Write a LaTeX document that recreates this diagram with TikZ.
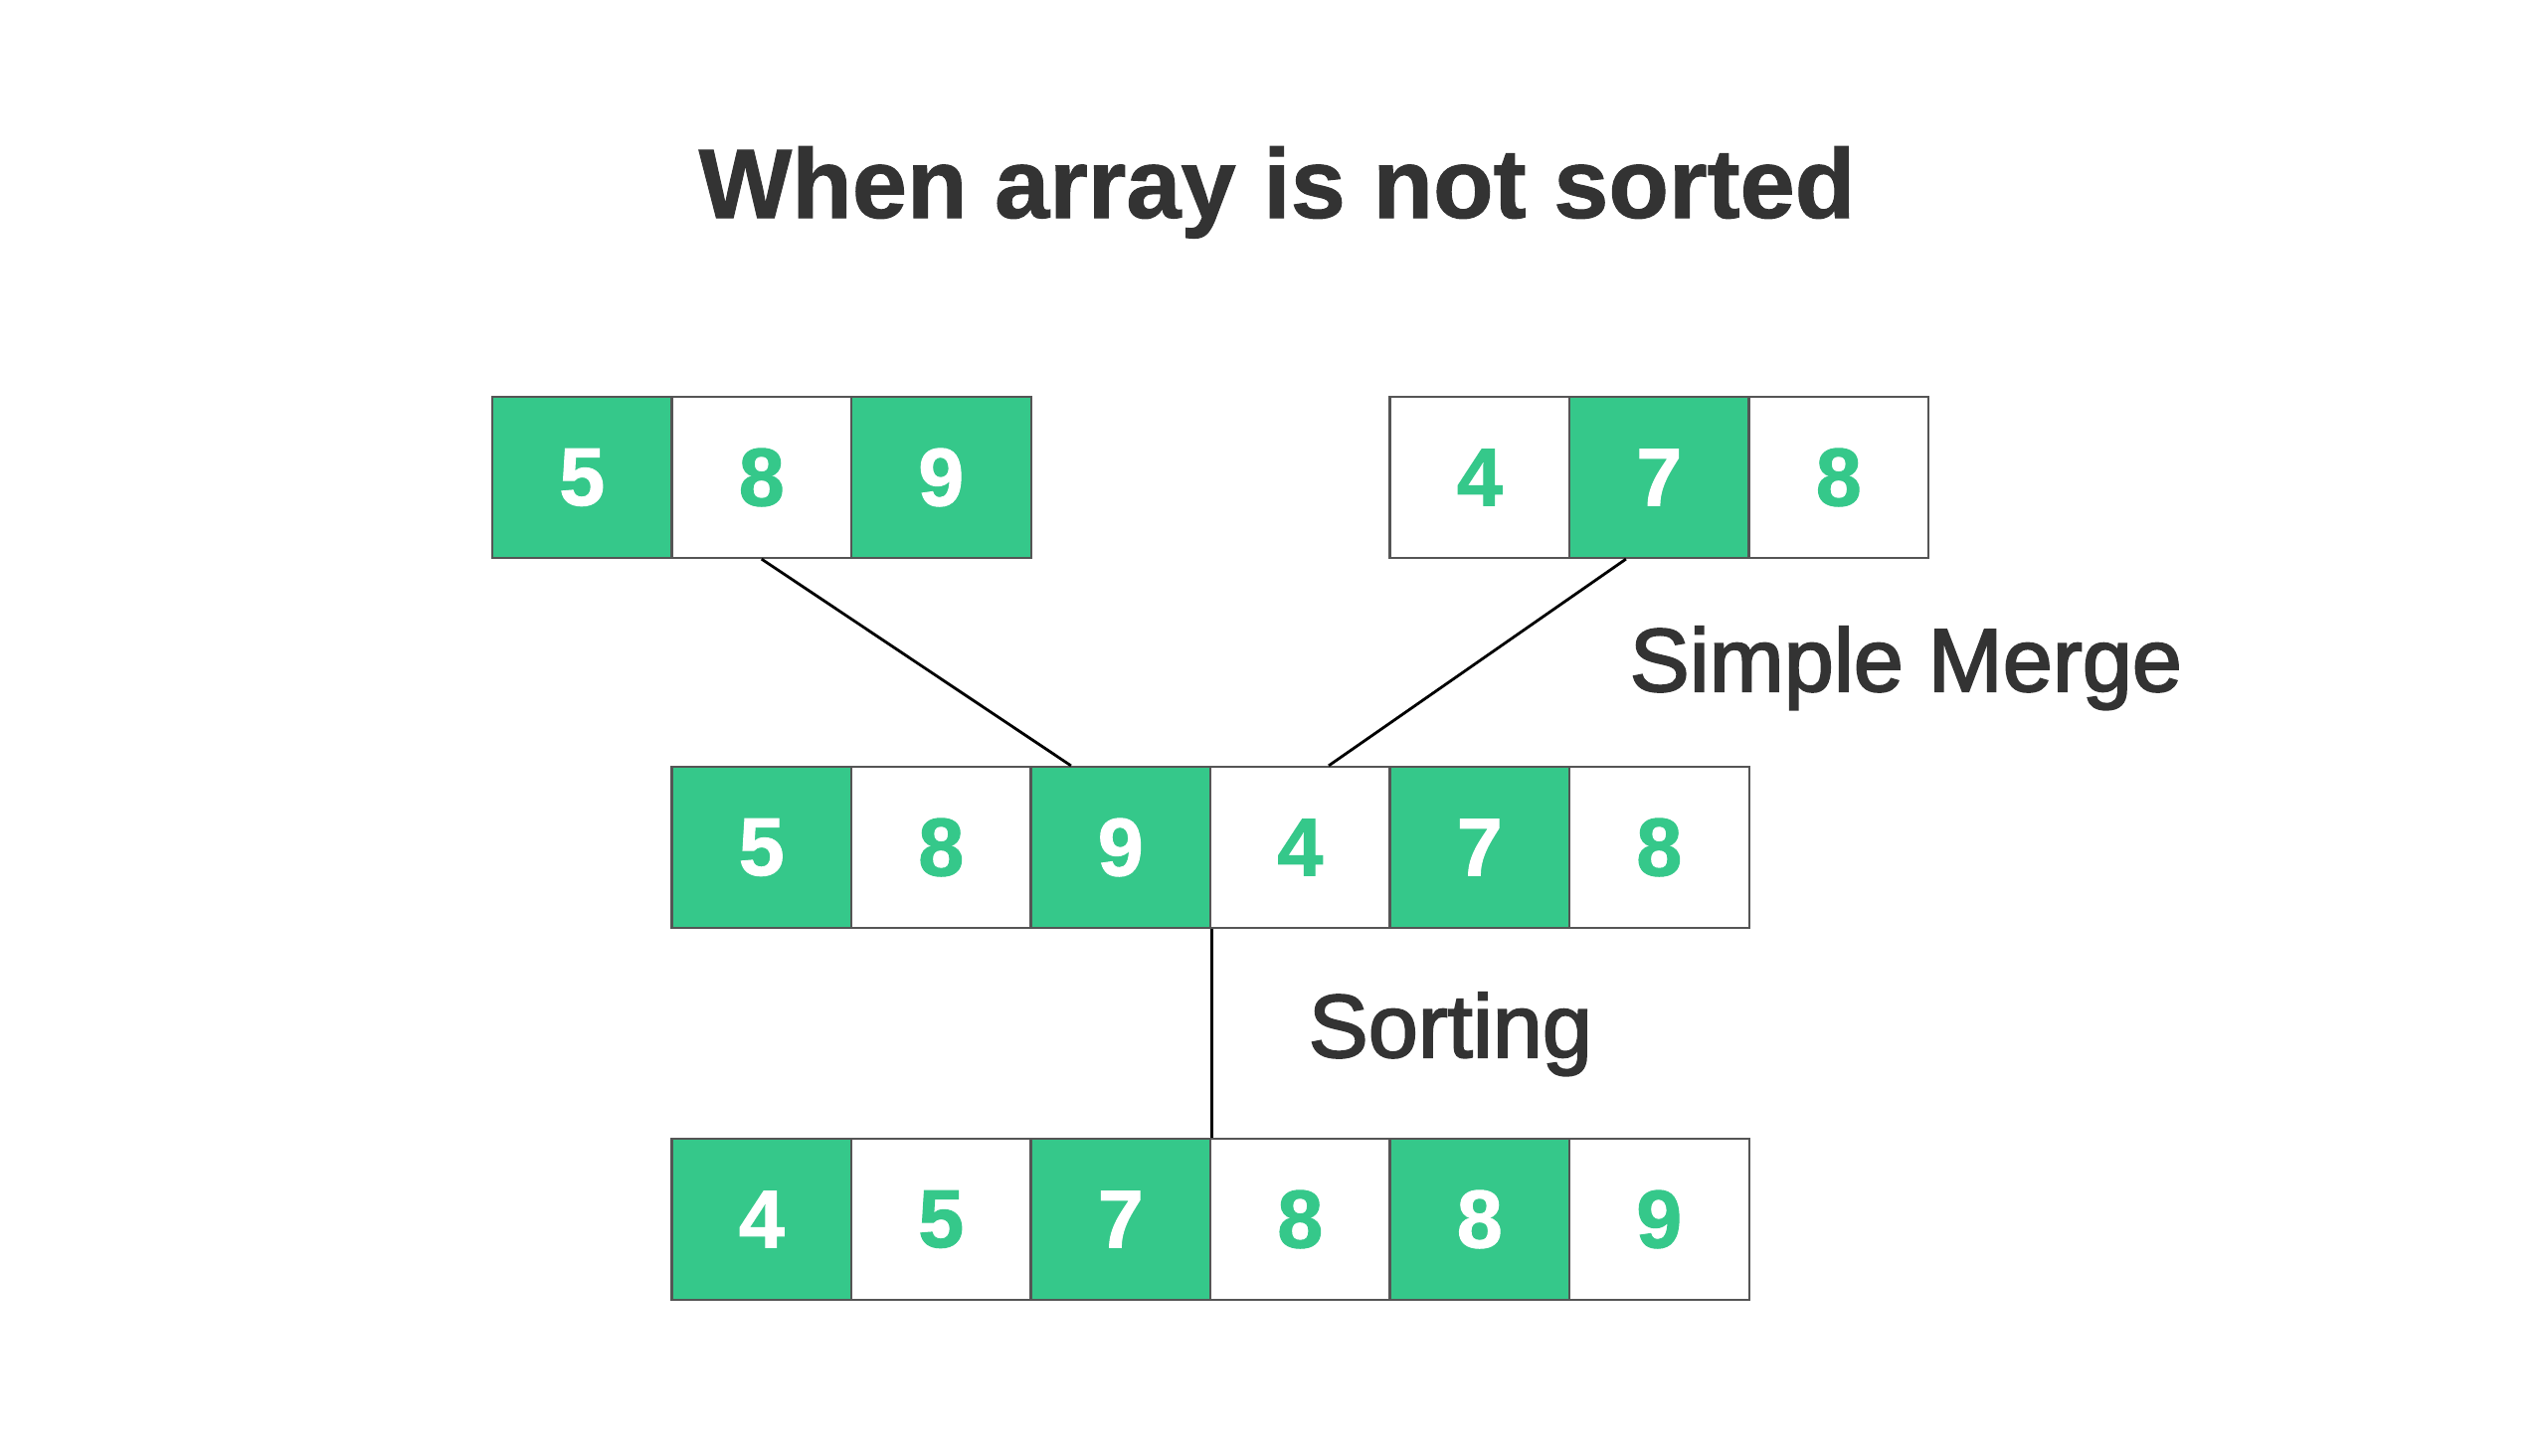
\documentclass[tikz,border=0pt]{standalone}
\usepackage{fontspec}
\setmainfont{Liberation Sans}
\newfontfamily\labfont[FakeBold=2.2]{Liberation Sans}
\newfontfamily\digfont[FakeBold=1.2]{Liberation Sans Bold}
\newfontfamily\titfont[FakeBold=1]{Liberation Sans Bold}
\definecolor{gfgreen}{RGB}{53,200,138}
\definecolor{inkgray}{HTML}{333333}
\definecolor{cellline}{HTML}{555555}
\begin{document}
\begin{tikzpicture}[x=0.01cm,y=-0.01cm,
  cell/.style={draw=cellline,line width=0.6pt,minimum width=1.805cm,minimum height=1.62cm,inner sep=0pt,
    font=\digfont\fontsize{23.5}{24}\selectfont},
  gcell/.style={cell,fill=gfgreen,text=white},
  wcell/.style={cell,fill=white,text=gfgreen},
  conn/.style={draw=black,line width=0.8pt},
  lab/.style={anchor=base west,inner sep=0pt,text=inkgray,font=\labfont\fontsize{25.6}{26}\selectfont}]
\fill[white] (0,0) rectangle (2560,1463);
\useasboundingbox (0,0) rectangle (2560,1463);
\node[anchor=base,inner sep=0pt,text=inkgray,font=\titfont\fontsize{28.2}{30}\selectfont] (title) at (1284,219) {When array is not sorted};
% top left array
\node[gcell] (a1) at (585.25,480) {5};
\node[wcell] (a2) at (765.75,480) {8};
\node[gcell] (a3) at (946.25,480) {9};
% top right array
\node[wcell] (b1) at (1487.75,480) {4};
\node[gcell] (b2) at (1668.25,480) {7};
\node[wcell] (b3) at (1848.75,480) {8};
% merged array
\node[gcell] (m1) at (765.75,852) {5};
\node[wcell] (m2) at (946.25,852) {8};
\node[gcell] (m3) at (1126.75,852) {9};
\node[wcell] (m4) at (1307.25,852) {4};
\node[gcell] (m5) at (1487.75,852) {7};
\node[wcell] (m6) at (1668.25,852) {8};
% sorted array
\node[gcell] (s1) at (765.75,1226) {4};
\node[wcell] (s2) at (946.25,1226) {5};
\node[gcell] (s3) at (1126.75,1226) {7};
\node[wcell] (s4) at (1307.25,1226) {8};
\node[gcell] (s5) at (1487.75,1226) {8};
\node[wcell] (s6) at (1668.25,1226) {9};
% connectors
\draw[conn] (a2.south) -- ([xshift=0.415cm]m3.north west);
\draw[conn] ([xshift=0.58cm]b2.south west) -- ([xshift=1.2cm]m4.north west);
\draw[conn] (m3.south east) -- (s3.north east);
% labels
\node[lab] (merge) at (1638,695) {Simple Merge};
\node[lab] (sorting) at (1315,1063) {Sorting};
\end{tikzpicture}
\end{document}
